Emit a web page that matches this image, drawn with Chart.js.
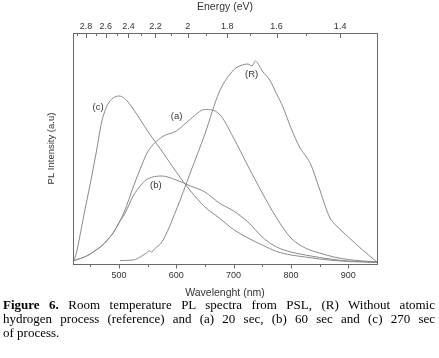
<!DOCTYPE html>
<html>
<head>
<meta charset="utf-8">
<script src="https://cdn.jsdelivr.net/npm/chart.js@4/dist/chart.umd.min.js"></script>
<style>
  body { margin: 0; background: #fff; }
  #wrap { position: relative; width: 439px; height: 358px; }
  #grafico { position: absolute; left: 0; top: 0; }
  #caption { position: absolute; left: 3px; top: 298px; width: 432px;
    font-family: "Liberation Serif", "Times New Roman", serif; font-size: 13px; line-height: 14px; color: #000; }
  #caption div { text-align: justify; text-align-last: justify; }
  #caption div.last { text-align-last: left; }
</style>
</head>
<body>
<div id="wrap">
  <canvas id="grafico" width="439" height="300"></canvas>
  <div id="caption">
    <div><b>Figure 6.</b> Room temperature PL spectra from PSL, (R) Without atomic</div>
    <div>hydrogen process (reference) and (a) 20 sec, (b) 60 sec and (c) 270 sec</div>
    <div class="last">of process.</div>
  </div>
</div>
<script>
// longitudes de onda (nm) para (a), (b), (c)
const wavelength = [420,425,430,440,450,460,470,480,490,500,510,525,540,550,575,600,625,650,675,700,725,750,775,800,825,850,875,900,925,950];
const serieA = [3,4,5,7,10,14,18,24,31,41,53,77,99,112,127,133,145,154.5,150,126,98,71,46,26,16,11,7,4.5,3,2];
const serieB = [3,4,5,7,10,14,18,24,31,41,50,68,80,85,88,84,78,72,61,53,42,27,17,12,9,6.5,4.5,3,2.5,2];
const serieC = [2,9,22,52,80,110,142,159,166,168,165.5,155,142,133,113,92,73,57,46,34.5,26,19,12.5,9,7,5,3.5,2.5,2,1.5];

// referencia (R)
const wavelengthR = [502,525,540,548,553,557,562,575,600,625,650,675,700,715,725,732,738,745,750,763,775,786,800,816,827,835,848,868,878,900,925,950];
const serieR = [3.5,4,8,11,13,12,15,22,54,92,130,172,194,199,200,198,203,198,193,184,170,157,136,116,107,99,78,46,39,27,14,2];

// ejes
const wlTicks = [500,600,700,800,900];
const wlMinor = [450,550,650,750,850];
const energyTicks = [2.8,2.6,2.4,2.2,2,1.8,1.6,1.4];
const energyMinor = [2.9,2.7,2.5,2.3,2.1,1.9,1.7,1.5];

// etiquetas de curvas (nm, intensidad)
const curveLabels = [
  { text: "(c)", x: 463.6, y: 156.7 },
  { text: "(a)", x: 600.5, y: 148 },
  { text: "(b)", x: 564.3, y: 78.7 },
  { text: "(R)", x: 731.3, y: 189.7 }
];

const toNm = e => 1240 / e;
const lineColor = "#8a8a8a";
const textColor = "#333";
const sans = "'Liberation Sans', Arial, sans-serif";

function puntos(xs, ys) {
  return xs.map((x, i) => ({ x: x, y: ys[i] }));
}

function serie(data) {
  return {
    data: data,
    borderColor: lineColor,
    borderWidth: 1,
    pointRadius: 0,
    fill: false,
    cubicInterpolationMode: "monotone"
  };
}

// marco, marcas de ejes y etiquetas
const marco = {
  id: "marco",
  afterDraw(chart) {
    const c = chart.ctx;
    const a = chart.chartArea;
    const sx = chart.scales.x, st = chart.scales.x2, sy = chart.scales.y;
    c.save();
    c.strokeStyle = "#6a6a6a";
    c.lineWidth = 1;
    c.strokeRect(Math.round(a.left) + 0.5, Math.round(a.top) + 0.5,
      Math.round(a.right - a.left), Math.round(a.bottom - a.top));
    c.beginPath();
    const bottom = Math.round(a.bottom) + 0.5, top = Math.round(a.top) + 0.5;
    wlTicks.forEach(v => { const px = Math.round(sx.getPixelForValue(v)) + 0.5; c.moveTo(px, bottom); c.lineTo(px, bottom + 4); });
    wlMinor.forEach(v => { const px = Math.round(sx.getPixelForValue(v)) + 0.5; c.moveTo(px, bottom); c.lineTo(px, bottom + 2.5); });
    energyTicks.forEach(e => { const px = Math.round(st.getPixelForValue(toNm(e))) + 0.5; c.moveTo(px, top); c.lineTo(px, top + 4.5); });
    energyMinor.forEach(e => { const px = Math.round(st.getPixelForValue(toNm(e))) + 0.5; c.moveTo(px, top); c.lineTo(px, top + 2.5); });
    c.stroke();

    c.fillStyle = textColor;
    c.font = "9.5px " + sans;
    c.textAlign = "center";
    c.textBaseline = "middle";
    curveLabels.forEach(l => c.fillText(l.text, sx.getPixelForValue(l.x), sy.getPixelForValue(l.y)));
    c.restore();
  }
};

new Chart(document.getElementById("grafico").getContext("2d"), {
  type: "line",
  data: {
    datasets: [
      serie(puntos(wavelength, serieC)),
      serie(puntos(wavelength, serieA)),
      serie(puntos(wavelength, serieB)),
      serie(puntos(wavelengthR, serieR))
    ]
  },
  options: {
    responsive: false,
    animation: false,
    devicePixelRatio: 1,
    layout: { padding: { left: 0, right: 62, top: 0, bottom: 0 } },
    plugins: { legend: { display: false }, tooltip: { enabled: false } },
    scales: {
      x: {
        type: "linear",
        position: "bottom",
        min: 420, max: 950,
        afterBuildTicks: axis => { axis.ticks = wlTicks.map(v => ({ value: v })); },
        afterFit: axis => { axis.height = 36; },
        grid: { display: false, drawTicks: false },
        border: { display: false },
        ticks: { color: textColor, font: { family: sans, size: 9 }, padding: 6, maxRotation: 0, autoSkip: false, callback: v => String(v) },
        title: { display: true, text: "Wavelenght (nm)", color: textColor, font: { family: sans, size: 10.5 }, padding: { top: 0, bottom: 1 } }
      },
      x2: {
        type: "linear",
        position: "top",
        min: 420, max: 950,
        afterBuildTicks: axis => { axis.ticks = energyTicks.map(e => ({ value: toNm(e) })); },
        afterFit: axis => { axis.height = 33; },
        grid: { display: false, drawTicks: false },
        border: { display: false },
        ticks: { color: textColor, font: { family: sans, size: 9 }, padding: 1, maxRotation: 0, autoSkip: false,
          callback: (v, i) => String(energyTicks[i]) },
        title: { display: true, text: "Energy (eV)", color: textColor, font: { family: sans, size: 10.5 }, padding: { top: 1, bottom: 0 } }
      },
      y: {
        type: "linear",
        min: 0, max: 231,
        afterFit: axis => { axis.width = 73; },
        grid: { display: false, drawTicks: false },
        border: { display: false },
        ticks: { display: false },
        title: { display: true, text: "PL Intensity (a.u)", color: textColor, font: { family: sans, size: 9.5 }, padding: { top: 46, bottom: 0 } }
      }
    }
  },
  plugins: [marco]
});
</script>
</body>
</html>
